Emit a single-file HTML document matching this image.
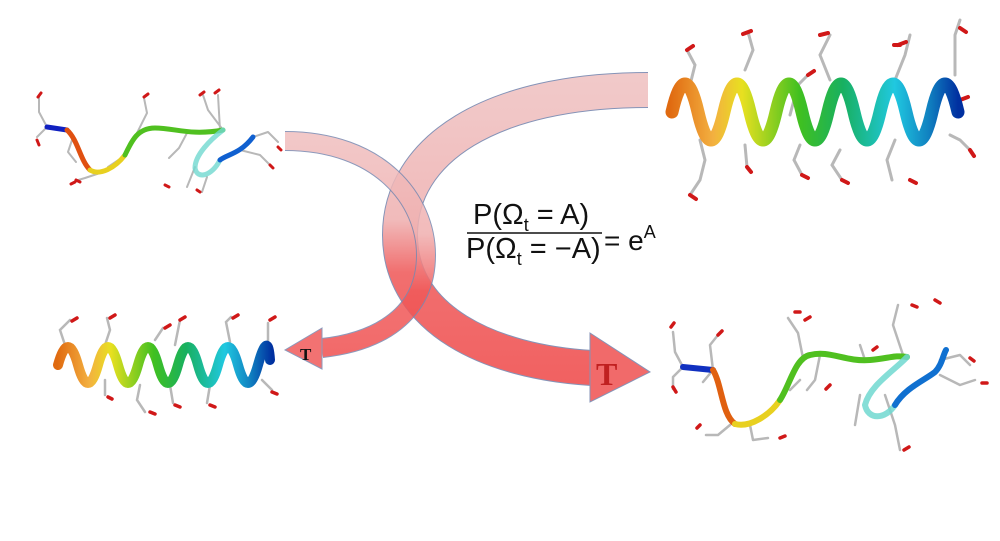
<!DOCTYPE html>
<html><head><meta charset="utf-8"><style>
html,body{margin:0;padding:0;background:#fff;width:1000px;height:541px;overflow:hidden}
svg{display:block}
</style></head><body>
<svg width="1000" height="541" viewBox="0 0 1000 541" xmlns="http://www.w3.org/2000/svg">
<defs>
<linearGradient id="rb1" gradientUnits="userSpaceOnUse" x1="670" y1="0" x2="958" y2="0">
<stop offset="0" stop-color="#e06a10"/><stop offset="0.15" stop-color="#f3b040"/><stop offset="0.25" stop-color="#e8e020"/><stop offset="0.45" stop-color="#40c020"/><stop offset="0.6" stop-color="#18b060"/><stop offset="0.78" stop-color="#20c8e0"/><stop offset="0.9" stop-color="#1080c0"/><stop offset="1" stop-color="#0030a0"/></linearGradient>
<linearGradient id="rb2" gradientUnits="userSpaceOnUse" x1="57" y1="0" x2="272" y2="0">
<stop offset="0" stop-color="#e06a10"/><stop offset="0.15" stop-color="#f3b040"/><stop offset="0.25" stop-color="#e8e020"/><stop offset="0.45" stop-color="#40c020"/><stop offset="0.6" stop-color="#18b060"/><stop offset="0.78" stop-color="#20c8e0"/><stop offset="0.9" stop-color="#1080c0"/><stop offset="1" stop-color="#0030a0"/></linearGradient>
<linearGradient id="armA" gradientUnits="userSpaceOnUse" x1="0" y1="130" x2="0" y2="360">
<stop offset="0" stop-color="#f0c0c0"/><stop offset="0.45" stop-color="#f0b0b0"/><stop offset="0.7" stop-color="#f05a5a"/><stop offset="1" stop-color="#f05050"/></linearGradient>
<linearGradient id="armB" gradientUnits="userSpaceOnUse" x1="0" y1="80" x2="0" y2="390">
<stop offset="0" stop-color="#f0c4c4"/><stop offset="0.45" stop-color="#f0b4b4"/><stop offset="0.62" stop-color="#f06060"/><stop offset="1" stop-color="#f05050"/></linearGradient>
</defs>

<g opacity="0.9">
<path d="M648,90 C490,90 400,150 400,235 C400,320 490,362 592,368" fill="none" stroke="#7888b0" stroke-width="36"/>
<path d="M648,90 C490,90 400,150 400,235 C400,320 490,362 592,368" fill="none" stroke="url(#armB)" stroke-width="34"/>
<polygon points="590,333 650,372 590,402" fill="#f05a5a" stroke="#7888b0" stroke-width="1"/>
</g>
<g opacity="0.85">
<path d="M285,141 C380,141 426,200 426,255 C426,315 378,342 322,348" fill="none" stroke="#7888b0" stroke-width="20"/>
<path d="M285,141 C380,141 426,200 426,255 C426,315 378,342 322,348" fill="none" stroke="url(#armA)" stroke-width="18"/>
<polygon points="322,328 285,350 322,369" fill="#f05a5a" stroke="#7888b0" stroke-width="1"/>
</g>
<text x="300" y="360" font-family="Liberation Serif, serif" font-weight="bold" font-size="17" fill="#111">T</text>
<text x="596" y="385" font-family="Liberation Serif, serif" font-weight="bold" font-size="32" fill="#c02020">T</text>

<g font-family="Liberation Sans, sans-serif" fill="#111">
<text x="473" y="224" font-size="29">P(Ω<tspan font-size="18" dy="7">t</tspan><tspan dy="-7"> = A)</tspan></text>
<line x1="467" y1="233" x2="602" y2="233" stroke="#111" stroke-width="1.5"/>
<text x="466" y="258" font-size="29">P(Ω<tspan font-size="18" dy="7">t</tspan><tspan dy="-7"> = −A)</tspan></text>
<text x="604" y="250" font-size="28">= e<tspan font-size="18" dy="-12">A</tspan></text>
</g>

<g stroke-linecap="round" fill="none">
<g stroke="#b8b8b8" stroke-width="3">
<path d="M690,85 l5,-20 l-8,-15 M700,140 l5,20 l-5,20 l-10,15 M745,70 l8,-20 l-5,-18 M745,145 l2,22 M790,115 l8,-30 l10,-10 M800,145 l-6,15 l8,15 M830,80 l-10,-25 l10,-20 M840,150 l-8,15 l10,15 M895,80 l10,-25 l5,-20 M895,140 l-8,20 l5,20 M955,75 l0,-40 l5,-15 M950,135 l10,5 l10,10"/>
</g>
<g stroke="#d01818" stroke-width="4">
<path d="M687,50 l6,-4 M743,34 l8,-3 M808,75 l6,-4 M820,35 l8,-2 M898,45 l8,-3 M960,28 l6,4 M690,195 l6,4 M747,167 l4,5 M802,175 l6,3 M842,180 l6,3 M910,180 l6,3 M970,150 l4,6 M960,100 l8,-3 M900,45 l-6,0"/>
</g>
<path d="M672,112 q13,-56 26,0 t26,0 t26,0 t26,0 t26,0 t26,0 t26,0 t26,0 t26,0 t26,0 t26,0" stroke="url(#rb1)" stroke-width="13"/>
</g>

<g stroke-linecap="round" fill="none">
<g stroke="#b8b8b8" stroke-width="2.5">
<path d="M65,345 l-5,-15 l10,-10 M105,345 l5,-15 l-3,-12 M155,340 l8,-12 M175,345 l5,-25 M230,342 l-4,-20 l5,-5 M268,345 l0,-22 M105,380 l0,15 M140,385 l-3,15 l8,12 M170,385 l3,18 M210,385 l-3,18 M262,380 l10,10"/>
</g>
<g stroke="#d01818" stroke-width="3.5">
<path d="M72,321 l5,-3 M110,318 l5,-3 M165,328 l5,-3 M180,320 l5,-3 M233,318 l5,-3 M270,320 l5,-3 M150,412 l5,2 M175,405 l5,2 M210,405 l5,2 M272,392 l5,2 M108,397 l4,2"/>
</g>
<path d="M58,365 q10,-36 20,0 t20,0 t20,0 t20,0 t20,0 t20,0 t20,0 t20,0 t20,0 t20,0 t12,-5" stroke="url(#rb2)" stroke-width="10"/>
</g>

<g stroke-linecap="round" stroke-linejoin="round" fill="none">
<g stroke="#b8b8b8" stroke-width="2">
<path d="M47,127 l-8,-15 l0,-15 M47,127 l-10,10 M73,137 l-5,15 l8,10 M100,173 l-15,5 l-10,3 M123,157 l-15,10 M137,133 l10,-20 l-3,-15 M187,133 l-8,15 l-10,10 M223,130 l-15,-20 l-5,-15 M220,130 l-2,-35 M253,137 l15,-5 l10,10 M240,150 l20,5 l10,10 M195,167 l-8,20 M207,177 l-5,15"/>
</g>
<g stroke="#d01818" stroke-width="3">
<path d="M38,97 l3,-4 M37,140 l2,5 M76,180 l4,2 M75,182 l-4,2 M144,97 l4,-3 M165,185 l4,2 M200,95 l4,-3 M215,93 l4,-3 M278,147 l3,3 M270,165 l3,3 M197,190 l3,2"/>
</g>
<path d="M47,127 L67,130" stroke="#1020c0" stroke-width="5"/>
<path d="M67,130 C78,140 80,160 90,170" stroke="#e05010" stroke-width="5"/>
<path d="M90,170 C100,176 115,168 125,155" stroke="#e8d020" stroke-width="5"/>
<path d="M125,155 C132,140 138,128 155,128 C175,128 190,136 223,130" stroke="#50c020" stroke-width="5"/>
<path d="M223,130 C210,140 195,155 195,168 C197,180 212,176 220,160" stroke="#70d8d0" stroke-width="5" opacity="0.8"/>
<path d="M220,160 C228,154 240,154 253,137" stroke="#1060d0" stroke-width="5"/>
</g>

<g stroke-linecap="round" stroke-linejoin="round" fill="none">
<g stroke="#b8b8b8" stroke-width="2.5">
<path d="M683,367 l-8,-15 l-2,-20 M683,367 l-10,10 l0,12 M713,370 l-3,-25 l8,-10 M713,370 l-10,12 M730,425 l-12,10 l-12,0 M750,425 l3,15 l15,-2 M790,390 l10,-10 M803,358 l-5,-25 l-10,-15 M820,355 l-5,25 l-8,10 M865,360 l-5,-15 M903,355 l-10,-30 l5,-20 M885,395 l10,30 l5,25 M940,360 l20,-5 l10,10 M940,375 l20,10 l15,-5 M860,395 l-5,30"/>
</g>
<g stroke="#d01818" stroke-width="3.5">
<path d="M671,327 l3,-4 M673,387 l3,5 M718,335 l4,-4 M700,425 l-3,3 M780,438 l5,-2 M805,320 l5,-3 M795,312 l5,0 M873,350 l4,-3 M912,305 l5,2 M935,300 l5,3 M970,358 l4,3 M982,383 l5,0 M904,450 l5,-3 M830,385 l-4,4"/>
</g>
<path d="M683,367 L713,370" stroke="#1030c0" stroke-width="6"/>
<path d="M713,370 C722,385 722,415 735,424" stroke="#e06010" stroke-width="6"/>
<path d="M735,424 C750,428 770,415 780,400" stroke="#e8d020" stroke-width="6"/>
<path d="M780,400 C790,385 795,358 810,355 C830,350 845,362 870,360 C890,358 895,355 907,357" stroke="#50c020" stroke-width="6"/>
<path d="M907,357 C895,370 870,385 865,405 C868,420 885,420 895,405" stroke="#70d8d0" stroke-width="6" opacity="0.85"/>
<path d="M895,405 C905,388 925,380 935,372 C942,365 943,355 946,350" stroke="#1070d0" stroke-width="6"/>
</g>
</svg>
</body></html>
